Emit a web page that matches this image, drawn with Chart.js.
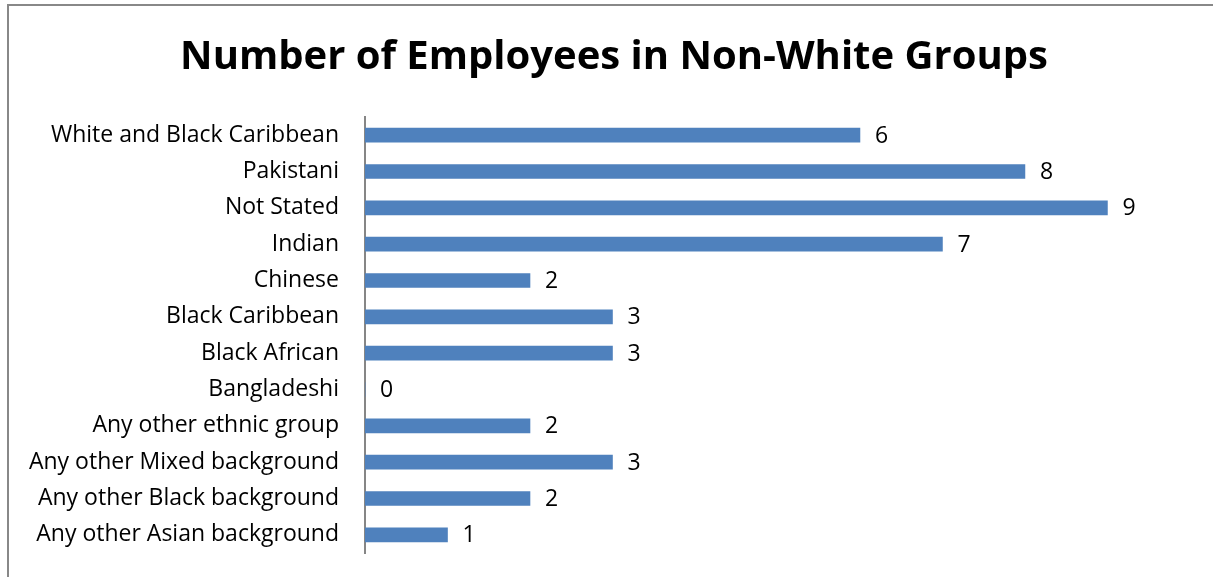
<!DOCTYPE html>
<html lang="en">
<head>
  <meta charset="UTF-8" />
  <title>Number of Employees in Non-White Groups</title>
  <script src="https://cdn.jsdelivr.net/npm/chart.js"></script>
  <style>
    body {
      margin: 0;
      background: #ffffff;
      overflow: hidden;
    }

    .frame {
      position: absolute;
      left: 7px;
      top: 4px;
      width: 1300px;
      height: 700px;
      border-left: 2px solid #888888;
      border-top: 2px solid #888888;
    }

    .chart-box {
      position: absolute;
      left: 0;
      top: 0;
      width: 1213px;
      height: 577px;
    }
  </style>
</head>
<body>

<div class="frame"></div>
<div class="chart-box">
  <canvas id="chart"></canvas>
</div>

<script>
  // data
  const groups = [
    'White and Black Caribbean',
    'Pakistani',
    'Not Stated',
    'Indian',
    'Chinese',
    'Black Caribbean',
    'Black African',
    'Bangladeshi',
    'Any other ethnic group',
    'Any other Mixed background',
    'Any other Black background',
    'Any other Asian background'
  ];
  const employees = [6, 8, 9, 7, 2, 3, 3, 0, 2, 3, 2, 1];

  const FONT = '"Open Sans", Lato, sans-serif';

  // label nilai di ujung batang
  const valueLabels = {
    id: 'valueLabels',
    afterDatasetsDraw(chart) {
      const ctx = chart.ctx;
      const meta = chart.getDatasetMeta(0);
      ctx.save();
      ctx.font = '23px ' + FONT;
      ctx.fillStyle = '#000000';
      ctx.textAlign = 'left';
      ctx.textBaseline = 'middle';
      meta.data.forEach((bar, i) => {
        ctx.fillText(String(employees[i]), bar.x + 15, bar.y + 1);
      });
      ctx.restore();
    }
  };

  new Chart(document.getElementById('chart'), {
    type: 'bar',
    data: {
      labels: groups,
      datasets: [{
        data: employees,
        backgroundColor: '#4F81BD',
        barThickness: 14
      }]
    },
    options: {
      indexAxis: 'y',
      responsive: true,
      maintainAspectRatio: false,
      animation: false,
      layout: {
        padding: { left: 15, right: 0, top: 0, bottom: 24 }
      },
      plugins: {
        legend: { display: false },
        tooltip: { enabled: false },
        title: {
          display: true,
          text: 'Number of Employees in Non-White Groups',
          color: '#000000',
          font: { family: FONT, size: 40, weight: 'bold', lineHeight: 1.2 },
          padding: { top: 34, bottom: 35 }
        }
      },
      scales: {
        x: {
          display: false,
          min: 0,
          max: 10.28
        },
        y: {
          grid: { display: false, drawTicks: false },
          border: { display: true, color: '#868686', width: 2 },
          ticks: {
            color: '#000000',
            padding: 26,
            font: { family: FONT, size: 23 }
          },
          afterFit(scale) {
            scale.width = 365 - 15;
            scale.paddingTop = 0;
            scale.paddingBottom = 0;
          }
        }
      }
    },
    plugins: [valueLabels]
  });
</script>

</body>
</html>
